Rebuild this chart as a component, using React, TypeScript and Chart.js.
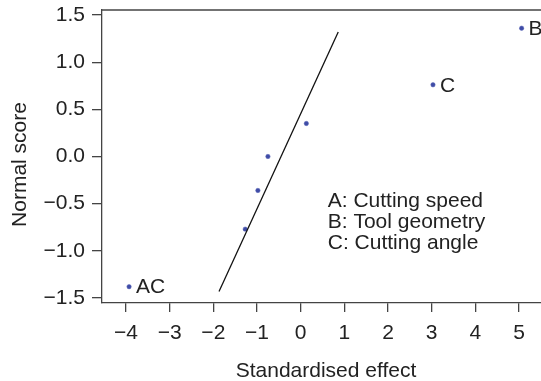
import React, { useEffect, useRef } from "react";
import { Chart, registerables } from "chart.js";

Chart.register(...registerables);

const effectX = [-3.93, -1.27, -0.98, -0.75, 0.13, 3.03, 5.06];
const normalY = [-1.38, -0.77, -0.36, 0.0, 0.35, 0.76, 1.36];
const pointLabels = ["AC", "", "", "", "", "C", "B"];
const lineX = [-1.87, 0.86];
const lineY = [-1.43, 1.32];
const xTicks = [-4, -3, -2, -1, 0, 1, 2, 3, 4, 5];
const yTicks = [-1.5, -1.0, -0.5, 0, 0.5, 1.0, 1.5];
const keyLines = ["A: Cutting speed", "B: Tool geometry", "C: Cutting angle"];
const yTitle = "Normal score";
const xTitle = "Standardised effect";

const FONT = "'Liberation Sans', Arial, Helvetica, sans-serif";
const FS = 21;
const TEXT = "#222222";
const AXIS = "#444444";

const fmt = (v: number, d: number) => {
  const s = Math.abs(v).toFixed(d);
  return v < 0 ? "\u2212" + s : s;
};

const annotate = {
  id: "annotate",
  afterDatasetsDraw(chart: any) {
    const { ctx, chartArea } = chart;
    const xs = chart.scales.x;
    const ys = chart.scales.y;
    ctx.save();
    // top frame line
    ctx.strokeStyle = AXIS;
    ctx.lineWidth = 1.3;
    ctx.beginPath();
    ctx.moveTo(chartArea.left, chartArea.top);
    ctx.lineTo(chartArea.right + 20, chartArea.top);
    ctx.stroke();
    // point labels
    ctx.fillStyle = TEXT;
    ctx.font = `${FS}px ${FONT}`;
    ctx.textBaseline = "middle";
    ctx.textAlign = "left";
    effectX.forEach((x, i) => {
      const lab = pointLabels[i];
      if (!lab) return;
      ctx.fillText(lab, xs.getPixelForValue(x) + 7, ys.getPixelForValue(normalY[i]) + 1);
    });
    // key text
    const kx = xs.getPixelForValue(0.62);
    const ky = ys.getPixelForValue(-0.46) + 1;
    keyLines.forEach((t, i) => {
      ctx.fillText(t, kx, ky + i * 21);
    });
    // y axis title
    ctx.translate(20, (chartArea.top + chartArea.bottom) / 2 + 8);
    ctx.rotate(-Math.PI / 2);
    ctx.textAlign = "center";
    ctx.fillText(yTitle, 0, 0);
    ctx.restore();
  },
};

export default function App() {
  const ref = useRef<HTMLCanvasElement | null>(null);
  useEffect(() => {
    if (!ref.current) return;
    const chart = new Chart(ref.current, {
      type: "scatter",
      data: {
        datasets: [
          {
            type: "line",
            data: lineX.map((x, i) => ({ x, y: lineY[i] })),
            borderColor: "#111111",
            borderWidth: 1.3,
            pointRadius: 0,
            fill: false,
          } as any,
          {
            data: effectX.map((x, i) => ({ x, y: normalY[i] })),
            backgroundColor: "#3f4ca6",
            borderColor: "#5a66b8",
            borderWidth: 0.5,
            pointRadius: 2.2,
          },
        ],
      },
      options: {
        animation: false,
        responsive: true,
        maintainAspectRatio: false,
        layout: { padding: { top: 10, right: 10, left: 0, bottom: 0 } },
        plugins: { legend: { display: false }, tooltip: { enabled: false } },
        scales: {
          x: {
            type: "linear",
            min: -4.55,
            max: 5.71,
            afterBuildTicks: (s: any) => {
              s.ticks = xTicks.map((v) => ({ value: v }));
            },
            afterFit: (s: any) => {
              s.height = 78;
              s.paddingLeft = 0;
              s.paddingRight = 0;
            },
            grid: { drawOnChartArea: false, drawTicks: true, tickLength: 9, color: AXIS, lineWidth: 1.3 },
            border: { display: true, color: AXIS, width: 1.3 },
            ticks: {
              color: TEXT,
              font: { family: FONT, size: FS },
              padding: 9,
              maxRotation: 0,
              autoSkip: false,
              callback: (v: any) => fmt(Number(v), 0),
            },
            title: {
              display: true,
              text: xTitle,
              color: TEXT,
              font: { family: FONT, size: FS, lineHeight: 1 },
              padding: { top: 0, bottom: -1 },
            },
          },
          y: {
            type: "linear",
            min: -1.553,
            max: 1.553,
            afterBuildTicks: (s: any) => {
              s.ticks = yTicks.map((v) => ({ value: v }));
            },
            afterFit: (s: any) => {
              s.width = 102;
              s.paddingTop = 0;
              s.paddingBottom = 0;
            },
            grid: { drawOnChartArea: false, drawTicks: true, tickLength: 10, color: AXIS, lineWidth: 1.3 },
            border: { display: true, color: AXIS, width: 1.3 },
            ticks: {
              color: TEXT,
              font: { family: FONT, size: FS },
              padding: 7,
              autoSkip: false,
              callback: (v: any) => fmt(Number(v), 1),
            },
            title: { display: false },
          },
        },
      },
      plugins: [annotate],
    });
    return () => chart.destroy();
  }, []);

  return (
    <div style={{ position: "absolute", left: 0, top: 0, width: 541, height: 381, overflow: "hidden", background: "#fff" }}>
      <div style={{ position: "relative", width: 560, height: 381 }}>
        <canvas ref={ref} />
      </div>
    </div>
  );
}
